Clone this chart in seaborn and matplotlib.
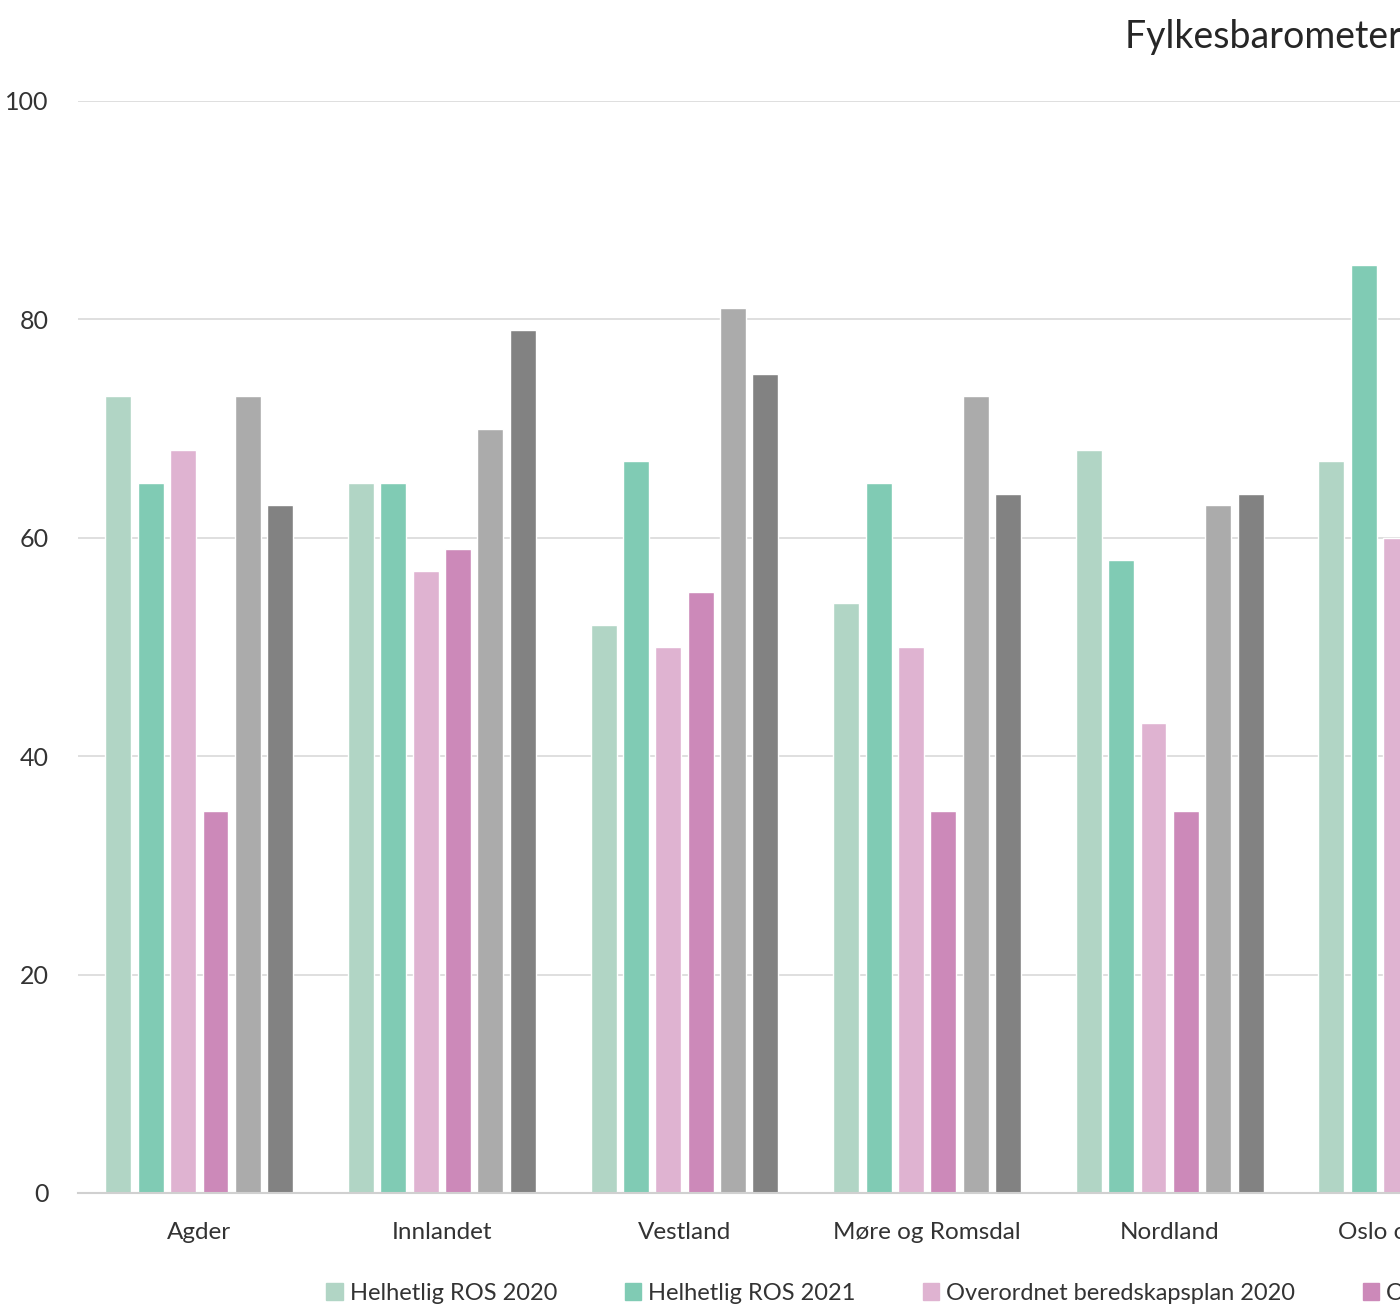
import matplotlib.pyplot as plt
import pandas as pd
import seaborn as sns

# categories (the chart is cropped on the right, so only the visible part is given)
counties = ['Agder', 'Innlandet', 'Vestland', 'Møre og Romsdal', 'Nordland', 'Oslo og Viken']
series = ['Helhetlig ROS 2020', 'Helhetlig ROS 2021',
          'Overordnet beredskapsplan 2020', 'Overordnet beredskapsplan 2021',
          'Øvelse 2020', 'Øvelse 2021']

ros_2020 = [73, 65, 52, 54, 68, 67]
ros_2021 = [65, 65, 67, 65, 58, 85]
plan_2020 = [68, 57, 50, 50, 43, 60]
plan_2021 = [35, 59, 55, 35, 35]
ovelse_2020 = [73, 70, 81, 73, 63]
ovelse_2021 = [63, 79, 75, 64, 64]

colors = ['#b1d5c5', '#80cbb4', '#dfb3d1', '#cc89b9', '#ababab', '#828282']

#build long table
rows = []
for name, vals in zip(series, [ros_2020, ros_2021, plan_2020, plan_2021, ovelse_2020, ovelse_2021]):
    for county, v in zip(counties, vals):
        rows.append({'fylke': county, 'serie': name, 'verdi': v})
df = pd.DataFrame(rows)

sns.set_style('white')
plt.rcParams['font.family'] = ['Lato', 'DejaVu Sans']

fig = plt.figure(figsize=(14, 13.09), dpi=100)
# axes runs past the right edge of the figure, like the cropped original
step = 242.6
ax = fig.add_axes([78 / 1400, 1 - 1193 / 1309, 6 * step / 1400, (1193 - 101) / 1309])

sns.barplot(data=df, x='fylke', y='verdi', hue='serie', order=counties, hue_order=series,
            palette=colors, saturation=1, width=0.8, gap=0.2, errorbar=None, ax=ax, legend=False)

ax.set_ylim(0, 100)
ax.set_xlim(-0.5, 5.5)
ax.set_yticks([0, 20, 40, 60, 80, 100])
ax.yaxis.grid(True, color='#d9d9d9', linewidth=1.2)
ax.set_axisbelow(True)
for s in ['top', 'right', 'left']:
    ax.spines[s].set_visible(False)
ax.spines['bottom'].set_color('#d0d0d0')
ax.spines['bottom'].set_linewidth(1.5)
ax.tick_params(axis='y', length=0, pad=21, labelsize=18, labelcolor='#333333')
ax.tick_params(axis='x', length=0, pad=21, labelsize=17.5, labelcolor='#333333')
ax.set_xlabel('')
ax.set_ylabel('')

fig.text(1125 / 1400, 1 - 37 / 1309, 'Fylkesbarometer 2021', ha='left', va='center',
         fontsize=27, color='#262626')

handles = [plt.Rectangle((0, 0), 1, 1, color=c) for c in colors]
fig.legend(handles, series, loc='center left', bbox_to_anchor=(305 / 1400, 1 - 1293 / 1309),
           ncol=6, frameon=False, fontsize=17, handlelength=0.7, handleheight=0.7,
           handletextpad=0.3, columnspacing=2.85, labelcolor='#333333')

fig.savefig('out.png', dpi=100)
